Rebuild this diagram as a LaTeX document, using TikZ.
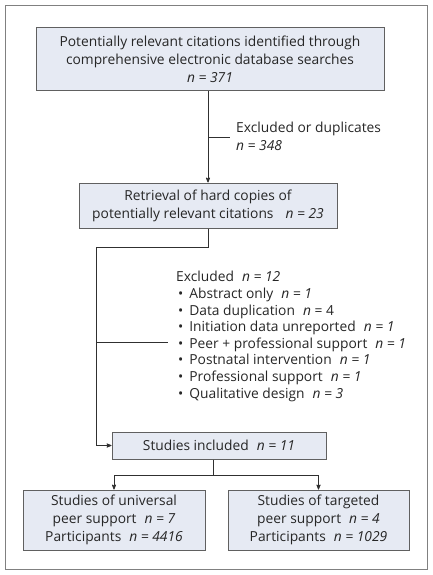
\documentclass[tikz,border=0pt]{standalone}
\usepackage{fontspec}
\setmainfont{Open Sans}
\usepackage{tikz}
\usetikzlibrary{arrows}
\usetikzlibrary{positioning}
\definecolor{boxfill}{HTML}{E6EAF3}
\definecolor{boxline}{HTML}{606060}
\definecolor{flowline}{HTML}{303030}
\tikzset{fbox/.style={draw=boxline,fill=boxfill,line width=1pt,align=center,inner sep=0pt,text=black!85}}
\tikzset{flow/.style={draw=flowline,line width=.8pt}}
\tikzset{flowarr/.style={flow,->,>=stealth'}}
\tikzset{note/.style={anchor=west,align=left,inner sep=0pt,text=black!85}}

\begin{document}
\begin{tikzpicture}[x=1pt,y=-1pt,font=\fontsize{13.8}{17.8}\selectfont]
\useasboundingbox (0,0) rectangle (432,575);
\draw[gray,line width=.8pt] (5,5) rectangle (427,569);
\node[fbox,minimum width=348pt,minimum height=63pt] (cit) at (210,59.5) {Potentially relevant citations identified through\\comprehensive electronic database searches\\\textit{n = 371}};
\node[fbox,minimum width=258pt,minimum height=45pt] (ret) at (208,205.5) {Retrieval of hard copies of\\potentially relevant citations\hspace{12pt}\textit{n = 23}};
\node[fbox,minimum width=214pt,minimum height=27pt] (inc) at (219,445.5) {Studies included\hspace{8pt}\textit{n = 11}};
\node[fbox,minimum width=182pt,minimum height=60pt] (uni) at (114,520) {Studies of universal\\peer support\hspace{8pt}\textit{n = 7}\\Participants\hspace{8pt}\textit{n = 4416}};
\node[fbox,minimum width=181pt,minimum height=60pt] (tar) at (318.5,520) {Studies of targeted\\peer support\hspace{8pt}\textit{n = 4}\\Participants\hspace{8pt}\textit{n = 1029}};
\node[note] (exa) at (236,136.5) {Excluded or duplicates\\\textit{n = 348}};
\node[note,font=\fontsize{13.8}{16.6}\selectfont] (exb) at (176,336.5) {Excluded\hspace{8pt}\textit{n = 12}\\
\hspace*{2pt}\textbullet\hspace{6pt}Abstract only\hspace{8pt}\textit{n = 1}\\
\hspace*{2pt}\textbullet\hspace{6pt}Data duplication\hspace{8pt}\textit{n} = 4\\
\hspace*{2pt}\textbullet\hspace{6pt}Initiation data unreported\hspace{8pt}\textit{n = 1}\\
\hspace*{2pt}\textbullet\hspace{6pt}Peer + professional support\hspace{8pt}\textit{n = 1}\\
\hspace*{2pt}\textbullet\hspace{6pt}Postnatal intervention\hspace{8pt}\textit{n = 1}\\
\hspace*{2pt}\textbullet\hspace{6pt}Professional support\hspace{8pt}\textit{n = 1}\\
\hspace*{2pt}\textbullet\hspace{6pt}Qualitative design\hspace{8pt}\textit{n = 3}};
% first step
\draw[flowarr] (ret.north |- cit.south) -- (ret.north);
\coordinate (ba) at (208,137);
\coordinate (baend) at (230,137);
\draw[flow] (ba) -- (baend);
% second step
\coordinate (c1) at (208,247);
\coordinate (c2) at (96,247);
\coordinate (bb) at (96,342);
\coordinate (bbend) at (168,342);
\draw[flowarr] (ret.south) -- (c1) -- (c2) -- (c2 |- inc.west) -- (inc.west);
\draw[flow] (bb) -- (bbend);
% split
\coordinate (d1) at (213.5,475);
\draw[flow] (d1 |- inc.south) -- (d1);
\draw[flowarr] (d1) -| (uni.north);
\draw[flowarr] (d1) -| (tar.north);
\end{tikzpicture}
\end{document}
